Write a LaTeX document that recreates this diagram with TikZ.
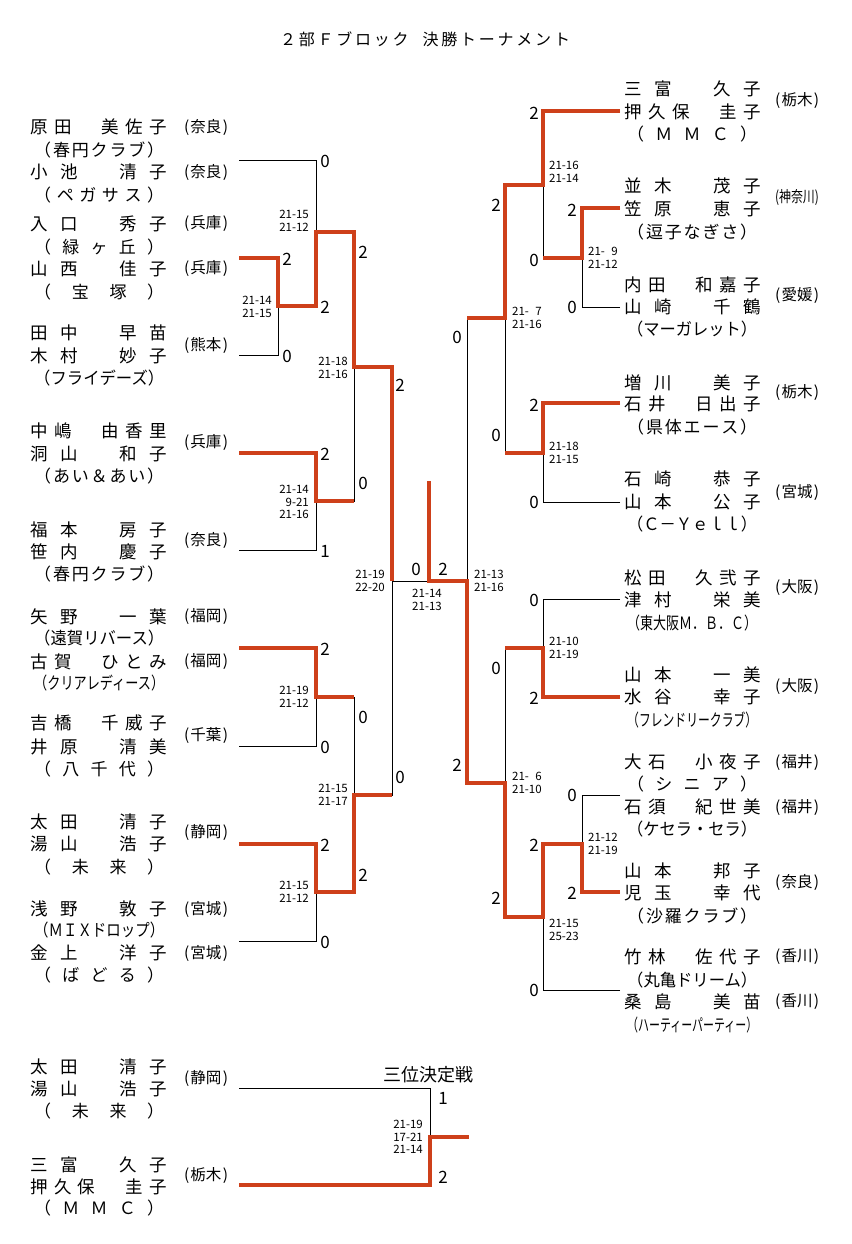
\documentclass[tikz,border=0pt]{standalone}
\usepackage{fontspec}
\usepackage{graphicx}
\setmainfont{Noto Sans CJK JP}
\usetikzlibrary{positioning}

\definecolor{winred}{RGB}{206,64,26}

% spread the characters of a string over a box
\makeatletter
\def\spreadtxt#1{\spread@a#1\@nil}
\def\spread@a#1#2\@nil{#1\ifx\relax#2\relax\else\hfill\spread@a#2\@nil\fi}
\makeatother
\newcommand\nm[1]{\makebox[137pt][s]{\spreadtxt{#1}}}
\newcommand\club[1]{\sbox0{#1}\ifdim\wd0>130pt\relax\resizebox{130pt}{\height}{#1}\else\makebox[130pt][s]{\spreadtxt{#1}}\fi}
\newcommand\pref[1]{\sbox0{(#1)}\ifdim\wd0>44pt\relax\resizebox{44pt}{\height}{(#1)}\else\makebox[44pt][s]{(\hfill#1\hfill)}\fi}

\begin{document}
\begin{tikzpicture}[x=1pt,y=-1pt,
  bk/.style={line width=0.9pt},
  wn/.style={line width=4.6pt,draw=winred},
  nml/.style={anchor=west,inner sep=0pt,font=\fontsize{17.5}{17.5}\selectfont},
  cbl/.style={anchor=west,inner sep=0pt,font=\fontsize{17}{17}\selectfont},
  pf/.style={inner sep=0pt,font=\fontsize{15.5}{15.5}\selectfont},
  pt/.style={inner sep=0pt,font=\fontsize{17}{17}\selectfont},
  scl/.style={anchor=east,inner sep=0pt,align=right,font=\fontsize{11.5}{12.5}\selectfont},
  scr/.style={anchor=west,inner sep=0pt,align=left,font=\fontsize{11.5}{12.5}\selectfont}]
\useasboundingbox (0,0) rectangle (851,1244);

% title
\node[inner sep=0pt,font=\fontsize{16}{16}\selectfont] (title) at (425,39)
  {\makebox[290pt][s]{\spreadtxt{２部Ｆブロック}\hspace{14pt}\spreadtxt{決勝トーナメント}}};

% left teams
\node[nml] (l1a) at (30,127) {\nm{原田　美佐子}};
\node[cbl] (l1b) at (34,150) {\club{（春円クラブ）}};
\node[nml] (l1c) at (30,172) {\nm{小池　清子}};
\node[cbl] (l1d) at (34,195) {\club{（ペガサス）}};
\node[pf] (l1p) at (206,127) {\pref{奈良}};
\node[pf] (l1q) at (206,172) {\pref{奈良}};

\node[nml] (l2a) at (30,224) {\nm{入口　秀子}};
\node[cbl] (l2b) at (34,247) {\club{（緑ヶ丘）}};
\node[nml] (l2c) at (30,269) {\nm{山西　佳子}};
\node[cbl] (l2d) at (34,292) {\club{（宝塚）}};
\node[pf] (l2p) at (206,224) {\pref{兵庫}};
\node[pf] (l2q) at (206,269) {\pref{兵庫}};

\node[nml] (l3a) at (30,333) {\nm{田中　早苗}};
\node[nml] (l3b) at (30,356) {\nm{木村　妙子}};
\node[cbl] (l3c) at (34,378) {\club{（フライデーズ）}};
\node[pf] (l3p) at (206,345) {\pref{熊本}};

\node[nml] (l4a) at (30,431) {\nm{中嶋　由香里}};
\node[nml] (l4b) at (30,454) {\nm{洞山　和子}};
\node[cbl] (l4c) at (34,476) {\club{（あい＆あい）}};
\node[pf] (l4p) at (206,443) {\pref{兵庫}};

\node[nml] (l5a) at (30,530) {\nm{福本　房子}};
\node[nml] (l5b) at (30,552) {\nm{笹内　慶子}};
\node[cbl] (l5c) at (34,574) {\club{（春円クラブ）}};
\node[pf] (l5p) at (206,540) {\pref{奈良}};

\node[nml] (l6a) at (30,617) {\nm{矢野　一葉}};
\node[cbl] (l6b) at (34,638) {\club{（遠賀リバース）}};
\node[nml] (l6c) at (30,662) {\nm{古賀　ひとみ}};
\node[cbl] (l6d) at (34,683) {\club{（クリアレディース）}};
\node[pf] (l6p) at (206,617) {\pref{福岡}};
\node[pf] (l6q) at (206,662) {\pref{福岡}};

\node[nml] (l7a) at (30,723) {\nm{吉橋　千威子}};
\node[nml] (l7b) at (30,747) {\nm{井原　清美}};
\node[cbl] (l7c) at (34,769) {\club{（八千代）}};
\node[pf] (l7p) at (206,735) {\pref{千葉}};

\node[nml] (l8a) at (30,822) {\nm{太田　清子}};
\node[nml] (l8b) at (30,844) {\nm{湯山　浩子}};
\node[cbl] (l8c) at (34,867) {\club{（未来）}};
\node[pf] (l8p) at (206,832) {\pref{静岡}};

\node[nml] (l9a) at (30,909) {\nm{浅野　敦子}};
\node[cbl] (l9b) at (34,930) {\club{（ＭＩＸドロップ）}};
\node[nml] (l9c) at (30,953) {\nm{金上　洋子}};
\node[cbl] (l9d) at (34,975) {\club{（ばどる）}};
\node[pf] (l9p) at (206,909) {\pref{宮城}};
\node[pf] (l9q) at (206,953) {\pref{宮城}};

% right teams
\node[nml] (r1a) at (624,89) {\nm{三富　久子}};
\node[nml] (r1b) at (624,112) {\nm{押久保　圭子}};
\node[cbl] (r1c) at (627,134) {\club{（ＭＭＣ）}};
\node[pf] (r1p) at (797,101) {\pref{栃木}};

\node[nml] (r2a) at (624,186) {\nm{並木　茂子}};
\node[nml] (r2b) at (624,209) {\nm{笠原　恵子}};
\node[cbl] (r2c) at (627,232) {\club{（逗子なぎさ）}};
\node[pf] (r2p) at (797,198) {\pref{神奈川}};

\node[nml] (r3a) at (624,285) {\nm{内田　和嘉子}};
\node[nml] (r3b) at (624,307) {\nm{山崎　千鶴}};
\node[cbl] (r3c) at (627,329) {\club{（マーガレット）}};
\node[pf] (r3p) at (797,295) {\pref{愛媛}};

\node[nml] (r4a) at (624,383) {\nm{増川　美子}};
\node[nml] (r4b) at (624,404) {\nm{石井　日出子}};
\node[cbl] (r4c) at (627,427) {\club{（県体エース）}};
\node[pf] (r4p) at (797,393) {\pref{栃木}};

\node[nml] (r5a) at (624,479) {\nm{石崎　恭子}};
\node[nml] (r5b) at (624,502) {\nm{山本　公子}};
\node[cbl] (r5c) at (627,524) {\club{（Ｃ－Ｙｅｌｌ）}};
\node[pf] (r5p) at (797,492) {\pref{宮城}};

\node[nml] (r6a) at (624,578) {\nm{松田　久弐子}};
\node[nml] (r6b) at (624,600) {\nm{津村　栄美}};
\node[cbl] (r6c) at (627,623) {\club{（東大阪Ｍ．Ｂ．Ｃ）}};
\node[pf] (r6p) at (797,588) {\pref{大阪}};

\node[nml] (r7a) at (624,675) {\nm{山本　一美}};
\node[nml] (r7b) at (624,697) {\nm{水谷　幸子}};
\node[cbl] (r7c) at (627,720) {\club{（フレンドリークラブ）}};
\node[pf] (r7p) at (797,687) {\pref{大阪}};

\node[nml] (r8a) at (624,762) {\nm{大石　小夜子}};
\node[cbl] (r8b) at (627,784) {\club{（シニア）}};
\node[nml] (r8c) at (624,807) {\nm{石須　紀世美}};
\node[cbl] (r8d) at (627,829) {\club{（ケセラ・セラ）}};
\node[pf] (r8p) at (797,762) {\pref{福井}};
\node[pf] (r8q) at (797,807) {\pref{福井}};

\node[nml] (r9a) at (624,871) {\nm{山本　邦子}};
\node[nml] (r9b) at (624,893) {\nm{児玉　幸代}};
\node[cbl] (r9c) at (627,916) {\club{（沙羅クラブ）}};
\node[pf] (r9p) at (797,882) {\pref{奈良}};

\node[nml] (r10a) at (624,957) {\nm{竹林　佐代子}};
\node[cbl] (r10b) at (627,980) {\club{（丸亀ドリーム）}};
\node[nml] (r10c) at (624,1002) {\nm{桑島　美苗}};
\node[cbl] (r10d) at (627,1025) {\club{（ハーティーパーティー）}};
\node[pf] (r10p) at (797,957) {\pref{香川}};
\node[pf] (r10q) at (797,1002) {\pref{香川}};

% third place teams
\node[nml] (t1a) at (30,1067) {\nm{太田　清子}};
\node[nml] (t1b) at (30,1089) {\nm{湯山　浩子}};
\node[cbl] (t1c) at (34,1111) {\club{（未来）}};
\node[pf] (t1p) at (206,1078) {\pref{静岡}};
\node[nml] (t2a) at (30,1165) {\nm{三富　久子}};
\node[nml] (t2b) at (30,1187) {\nm{押久保　圭子}};
\node[cbl] (t2c) at (34,1208) {\club{（ＭＭＣ）}};
\node[pf] (t2p) at (206,1175) {\pref{栃木}};
\node[inner sep=0pt,font=\fontsize{18}{18}\selectfont] (third) at (428,1075) {三位決定戦};

% line ends and match points
\coordinate (l1) at (239,160);  \coordinate (l2) at (239,258);
\coordinate (l3) at (239,355);  \coordinate (l4) at (239,453);
\coordinate (l5) at (239,550);  \coordinate (l6) at (239,648);
\coordinate (l7) at (239,746);  \coordinate (l8) at (239,844);
\coordinate (l9) at (239,941);
\coordinate (mA) at (278,306);  \coordinate (mB) at (316,232);
\coordinate (mC) at (316,501);  \coordinate (mD) at (354,367);
\coordinate (mE) at (316,697);  \coordinate (mF) at (316,892);
\coordinate (mG) at (354,795);  \coordinate (mH) at (392,581);
\coordinate (fin) at (429,581); \coordinate (champ) at (429,481);
\coordinate (mR) at (467,581);
\coordinate (r1) at (620,111);  \coordinate (r2) at (620,208);
\coordinate (r3) at (620,307);  \coordinate (r4) at (620,403);
\coordinate (r5) at (620,502);  \coordinate (r6) at (620,599);
\coordinate (r7) at (620,697);  \coordinate (r8) at (620,795);
\coordinate (r9) at (620,892);  \coordinate (r10) at (620,990);
\coordinate (ra) at (582,258);  \coordinate (rb) at (543,185);
\coordinate (rc) at (543,453);  \coordinate (rd) at (505,318);
\coordinate (re) at (543,648);  \coordinate (rf) at (582,844);
\coordinate (rg) at (543,917);  \coordinate (rh) at (505,783);
\coordinate (t1) at (239,1088); \coordinate (t2) at (239,1185);
\coordinate (mT) at (430,1137);

% bracket
\draw[bk] (l1) -| (mB);  \draw[bk] (l2) -| (mA);  \draw[bk] (l3) -| (mA);
\draw[bk] (mA) -| (mB);  \draw[bk] (mB) -| (mD);
\draw[bk] (l4) -| (mC);  \draw[bk] (l5) -| (mC);  \draw[bk] (mC) -| (mD);
\draw[bk] (mD) -| (mH);
\draw[bk] (l6) -| (mE);  \draw[bk] (l7) -| (mE);  \draw[bk] (mE) -| (mG);
\draw[bk] (l8) -| (mF);  \draw[bk] (l9) -| (mF);  \draw[bk] (mF) -| (mG);
\draw[bk] (mG) -| (mH);
\draw[bk] (mH) -- (mR);
\draw[bk] (r1) -| (rb);  \draw[bk] (r2) -| (ra);  \draw[bk] (r3) -| (ra);
\draw[bk] (ra) -| (rb);  \draw[bk] (rb) -| (rd);
\draw[bk] (r4) -| (rc);  \draw[bk] (r5) -| (rc);  \draw[bk] (rc) -| (rd);
\draw[bk] (rd) -| (mR);
\draw[bk] (r6) -| (re);  \draw[bk] (r7) -| (re);  \draw[bk] (re) -| (rh);
\draw[bk] (r8) -| (rf);  \draw[bk] (r9) -| (rf);  \draw[bk] (rf) -| (rg);
\draw[bk] (r10) -| (rg); \draw[bk] (rg) -| (rh);
\draw[bk] (rh) -| (mR);
\draw[bk] (t1) -| (mT);

% winners
\draw[wn] (l2) -| (mA) -| (mB) -| (mD) -| (mH);
\draw[wn] (l4) -| (mC) -- (mC -| mD);
\draw[wn] (l6) -| (mE) -- (mE -| mG);
\draw[wn] (l8) -| (mF) -| (mG) -- (mG -| mH);
\draw[wn] (r1) -| (rb) -| (rd) -- (rd -| mR);
\draw[wn] (r2) -| (ra) -- (ra -| rb);
\draw[wn] (r4) -| (rc) -- (rc -| rd);
\draw[wn] (r7) -| (re) -- (re -| rh);
\draw[wn] (r9) -| (rf) -| (rg) -| (rh) -| (mR) -- (fin) -- (champ);
\draw[wn] (t2) -| (mT) -- ++(39,0);

% games won
\node[pt] (g1) at (325,161) {0};
\node[pt] (g2) at (287,259) {2};
\node[pt] (g3) at (287,356) {0};
\node[pt] (g4) at (325,307) {2};
\node[pt] (g5) at (363,252) {2};
\node[pt] (g6) at (325,454) {2};
\node[pt] (g7) at (325,551) {1};
\node[pt] (g8) at (363,483) {0};
\node[pt] (g9) at (400,385) {2};
\node[pt] (g10) at (325,649) {2};
\node[pt] (g11) at (325,747) {0};
\node[pt] (g12) at (363,717) {0};
\node[pt] (g13) at (325,845) {2};
\node[pt] (g14) at (325,942) {0};
\node[pt] (g15) at (363,875) {2};
\node[pt] (g16) at (400,777) {0};
\node[pt] (g17) at (416,569) {0};
\node[pt] (g18) at (443,569) {2};
\node[pt] (g19) at (534,113) {2};
\node[pt] (g20) at (572,210) {2};
\node[pt] (g21) at (572,307) {0};
\node[pt] (g22) at (534,260) {0};
\node[pt] (g23) at (496,205) {2};
\node[pt] (g24) at (534,405) {2};
\node[pt] (g25) at (534,502) {0};
\node[pt] (g26) at (496,435) {0};
\node[pt] (g27) at (457,337) {0};
\node[pt] (g28) at (534,600) {0};
\node[pt] (g29) at (534,698) {2};
\node[pt] (g30) at (496,668) {0};
\node[pt] (g31) at (572,795) {0};
\node[pt] (g32) at (572,893) {2};
\node[pt] (g33) at (534,845) {2};
\node[pt] (g34) at (534,990) {0};
\node[pt] (g35) at (496,898) {2};
\node[pt] (g36) at (457,765) {2};
\node[pt] (g37) at (443,1098) {1};
\node[pt] (g38) at (443,1177) {2};

% set scores
\node[scl] (sA) at (272,307) {21-14\\21-15};
\node[scl] (sB) at (309,221) {21-15\\21-12};
\node[scl] (sC) at (309,502) {21-14\\9-21\\21-16};
\node[scl] (sD) at (348,368) {21-18\\21-16};
\node[scl] (sE) at (309,697) {21-19\\21-12};
\node[scl] (sF) at (309,892) {21-15\\21-12};
\node[scl] (sG) at (348,795) {21-15\\21-17};
\node[scl] (sH) at (385,581) {21-19\\22-20};
\node[inner sep=0pt,align=center,font=\fontsize{11.5}{12.5}\selectfont] (sFin) at (427,600) {21-14\\21-13};
\node[scr] (sRb) at (549,172) {21-16\\21-14};
\node[scr] (sRa) at (588,258) {21-\hphantom{0}9\\21-12};
\node[scr] (sRd) at (512,318) {21-\hphantom{0}7\\21-16};
\node[scr] (sRc) at (549,453) {21-18\\21-15};
\node[scr] (sRs) at (474,581) {21-13\\21-16};
\node[scr] (sRe) at (549,648) {21-10\\21-19};
\node[scr] (sRh) at (512,783) {21-\hphantom{0}6\\21-10};
\node[scr] (sRf) at (588,844) {21-12\\21-19};
\node[scr] (sRg) at (549,930) {21-15\\25-23};
\node[scl] (sT) at (423,1137) {21-19\\17-21\\21-14};
\end{tikzpicture}
\end{document}
